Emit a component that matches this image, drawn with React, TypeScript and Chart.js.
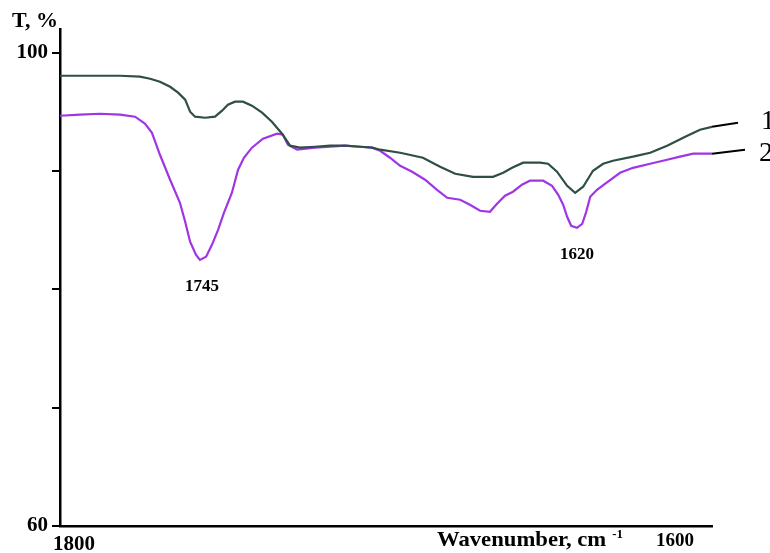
import React, { useEffect, useRef } from "react";
import { Chart, registerables } from "chart.js";

Chart.register(...registerables);

// Curve 1 (upper, dark green)
const wavenumbers1 = [1800, 1793.5, 1787.0, 1780.5, 1774.0, 1770.7, 1767.5, 1764.2, 1761.6, 1759.3, 1757.7, 1756.1, 1752.8, 1749.6, 1747.3, 1745.4, 1743.1, 1740.5, 1737.6, 1734.3, 1731.1, 1727.8, 1725.2, 1722.0, 1717.1, 1712.2, 1707.3, 1702.4, 1698.5, 1695.9, 1689.4, 1682.0, 1676.4, 1671.5, 1665.7, 1659.2, 1655.9, 1653.0, 1649.4, 1643.9, 1641.3, 1638.4, 1635.1, 1632.5, 1629.9, 1626.7, 1623.4, 1620.2, 1613.7, 1608.1, 1602.6, 1596.7, 1591.9, 1588.0];
const transmittance1 = [98.05, 98.05, 98.05, 98.05, 97.97, 97.80, 97.55, 97.12, 96.62, 96.03, 95.01, 94.59, 94.50, 94.59, 95.10, 95.60, 95.86, 95.86, 95.52, 94.93, 94.16, 93.15, 92.14, 91.97, 92.05, 92.14, 92.14, 92.05, 91.97, 91.80, 91.54, 91.12, 90.36, 89.77, 89.51, 89.51, 89.85, 90.27, 90.70, 90.70, 90.61, 89.94, 88.75, 88.16, 88.67, 90.02, 90.61, 90.87, 91.21, 91.54, 92.14, 92.90, 93.49, 93.74];

// Curve 2 (lower, purple)
const wavenumbers2 = [1800, 1793.5, 1787.0, 1780.5, 1775.6, 1772.4, 1770.1, 1767.5, 1764.2, 1761.0, 1759.3, 1757.7, 1755.8, 1754.5, 1752.5, 1750.6, 1748.6, 1746.7, 1744.1, 1742.1, 1740.2, 1737.6, 1734.0, 1729.4, 1727.5, 1725.9, 1722.9, 1717.1, 1712.2, 1707.3, 1702.4, 1698.5, 1695.9, 1692.7, 1689.4, 1685.5, 1681.3, 1677.4, 1674.1, 1669.9, 1666.7, 1663.4, 1660.2, 1657.9, 1655.3, 1652.7, 1649.8, 1647.2, 1642.9, 1640.0, 1638.0, 1636.4, 1635.1, 1633.8, 1631.9, 1630.2, 1628.9, 1627.6, 1625.4, 1622.8, 1617.9, 1613.7, 1608.1, 1602.6, 1598.4, 1594.1, 1588.0];
const transmittance2 = [94.67, 94.76, 94.84, 94.76, 94.59, 94.00, 93.23, 91.37, 89.26, 87.31, 85.71, 84.02, 82.92, 82.49, 82.75, 83.76, 85.03, 86.47, 88.16, 90.11, 91.12, 91.97, 92.73, 93.15, 93.07, 92.22, 91.80, 91.97, 92.05, 92.14, 92.05, 91.97, 91.71, 91.12, 90.44, 89.94, 89.26, 88.41, 87.74, 87.57, 87.15, 86.64, 86.55, 87.23, 87.91, 88.25, 88.84, 89.18, 89.18, 88.75, 87.99, 87.15, 86.13, 85.37, 85.20, 85.54, 86.55, 87.82, 88.41, 88.92, 89.85, 90.27, 90.61, 90.95, 91.21, 91.46, 91.46];

const yTicks = [60, 70, 80, 90, 100];
const yLabelled = [60, 100];
const xLabels = [1800, 1600];
const peakLabels = [
  { text: "1745", wn: 1753.8, t: 82.49 },
  { text: "1620", wn: 1631.9, t: 85.2 },
];
const seriesNames = ["1", "2"];

const SERIF = '"Liberation Serif", "Times New Roman", serif';

const annotations = {
  id: "annotations",
  afterDraw(chart: any) {
    const { ctx, scales } = chart;
    const xs = scales.x;
    const ys = scales.y;
    ctx.save();
    ctx.fillStyle = "#000";
    ctx.textBaseline = "alphabetic";

    // y title
    ctx.font = `bold 22px ${SERIF}`;
    ctx.textAlign = "left";
    ctx.fillText("T, %", 12, 27);

    // x labels
    ctx.font = `bold 21px ${SERIF}`;
    ctx.textAlign = "left";
    ctx.fillText(String(xLabels[0]), xs.getPixelForValue(xLabels[0]) - 7, 550);
    ctx.font = `bold 19px ${SERIF}`;
    ctx.textAlign = "center";
    ctx.fillText(String(xLabels[1]), xs.getPixelForValue(xLabels[1]), 546);

    // x title with superscript
    ctx.font = `bold 21px ${SERIF}`;
    ctx.textAlign = "left";
    const title = "Wavenumber, cm";
    ctx.save();
    ctx.translate(437, 546);
    ctx.scale(1.08, 1);
    ctx.fillText(title, 0, 0);
    const w = ctx.measureText(title).width * 1.08;
    ctx.restore();
    ctx.font = `bold 13px ${SERIF}`;
    ctx.fillText("-1", 437 + w + 6, 538);

    // peak labels
    ctx.font = `bold 17px ${SERIF}`;
    ctx.textAlign = "center";
    for (const p of peakLabels) {
      const px = xs.getPixelForValue(p.wn);
      const py = ys.getPixelForValue(p.t);
      ctx.fillText(p.text, px, py + 31);
    }

    // series leaders and numbers
    const ends = [
      { wn: wavenumbers1[wavenumbers1.length - 1], t: transmittance1[transmittance1.length - 1] },
      { wn: wavenumbers2[wavenumbers2.length - 1], t: transmittance2[transmittance2.length - 1] },
    ];
    ctx.strokeStyle = "#000";
    ctx.lineWidth = 2;
    ends.forEach((e, i) => {
      const px = xs.getPixelForValue(e.wn);
      const py = ys.getPixelForValue(e.t);
      const lx = i === 0 ? 738 : 745;
      ctx.beginPath();
      ctx.moveTo(px, py);
      ctx.lineTo(lx, py - 4);
      ctx.stroke();
      ctx.font = `28px ${SERIF}`;
      ctx.textAlign = "left";
      ctx.fillText(seriesNames[i], i === 0 ? 761 : 759, py + 2 + (i === 0 ? 0 : 5));
    });
    ctx.restore();
  },
};

export default function App() {
  const ref = useRef<HTMLCanvasElement>(null);
  useEffect(() => {
    if (!ref.current) return;
    const chart = new Chart(ref.current, {
      type: "line",
      data: {
        datasets: [
          {
            label: seriesNames[0],
            data: wavenumbers1.map((x, i) => ({ x, y: transmittance1[i] })),
            borderColor: "#2f4f45",
            borderWidth: 2.2,
            pointRadius: 0,
            tension: 0,
          },
          {
            label: seriesNames[1],
            data: wavenumbers2.map((x, i) => ({ x, y: transmittance2[i] })),
            borderColor: "#a035e6",
            borderWidth: 2.2,
            pointRadius: 0,
            tension: 0,
          },
        ],
      },
      options: {
        animation: false,
        responsive: false,
        layout: { padding: { top: 29, right: 58, left: 0, bottom: 0 } },
        plugins: { legend: { display: false }, tooltip: { enabled: false } },
        scales: {
          x: {
            type: "linear",
            reverse: true,
            min: 1588,
            max: 1800,
            ticks: { display: false },
            grid: { display: false },
            border: { display: true, color: "#000", width: 2.5 },
            afterFit: (s: any) => {
              s.height = 27;
            },
          },
          y: {
            type: "linear",
            min: 60,
            max: 102,
            afterBuildTicks: (s: any) => {
              s.ticks = yTicks.map((v) => ({ value: v }));
            },
            ticks: {
              color: "#000",
              font: { family: SERIF, size: 21, weight: "bold" },
              padding: 4,
              callback: (v: any) => (yLabelled.includes(Number(v)) ? String(v) : ""),
            },
            grid: {
              drawOnChartArea: false,
              drawTicks: true,
              tickLength: 8,
              color: "#000",
              lineWidth: 2,
            },
            border: { display: true, color: "#000", width: 2.5 },
            afterFit: (s: any) => {
              s.width = 60;
            },
          },
        },
      },
      plugins: [annotations],
    });
    return () => chart.destroy();
  }, []);
  return (
    <div style={{ position: "absolute", left: 0, top: 0, width: 770, height: 553, background: "#fff" }}>
      <canvas ref={ref} width={770} height={553} />
    </div>
  );
}
